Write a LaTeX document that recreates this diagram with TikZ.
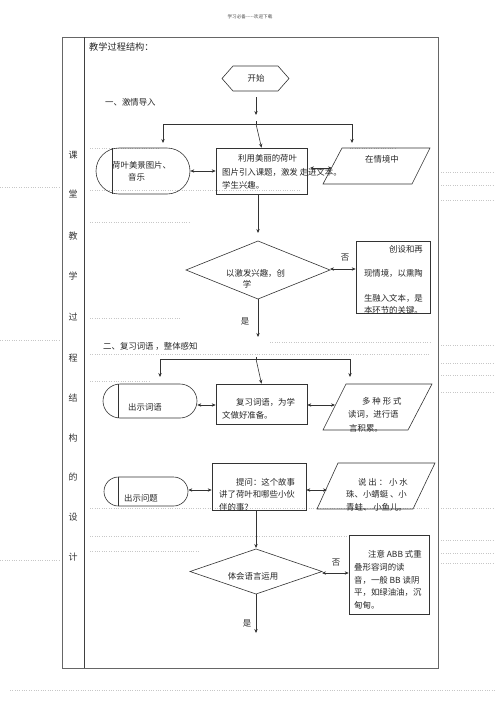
\documentclass[tikz,border=0pt]{standalone}
\usepackage{fontspec}
\newfontfamily\cjk{Noto Sans CJK SC}
\usetikzlibrary{arrows.meta}
\begin{document}
\begin{tikzpicture}[x=1pt,y=-1pt,
  ln/.style={draw=black!80, line width=0.6pt},
  arr/.style={ln,-{Stealth[length=4pt,width=3.4pt]}},
  dbl/.style={ln,{Stealth[length=4pt,width=3.4pt]}-{Stealth[length=4pt,width=3.4pt]}},
  frame/.style={draw=black!60, line width=0.8pt},
  txt/.style={font=\cjk\fontsize{8.4}{10}\selectfont, inner sep=0pt, text=black!85},
  side/.style={font=\cjk\fontsize{9}{10}\selectfont, inner sep=0pt, text=black!80},
  faint/.style={draw=black!22, line width=0.35pt, dotted},
  boxn/.style={ln, inner sep=0pt},
  stad/.style={ln, inner sep=0pt, rounded corners=#1}
]
\useasboundingbox (0,0) rectangle (500,707);
\fill[white] (0,0) rectangle (500,707);

% faint background dotted lines
\draw[faint] (10,690) -- (495,690);
\draw[faint] (441,172) -- (495,172);
\draw[faint] (441,185) -- (495,185);
\draw[faint] (441,200) -- (495,200);
\draw[faint] (441,345) -- (495,345);
\draw[faint] (441,363) -- (495,363);
\draw[faint] (441,375) -- (495,375);
\draw[faint] (441,392) -- (495,392);
\draw[faint] (441,508) -- (495,508);
\draw[faint] (441,540) -- (495,540);
\draw[faint] (441,553) -- (495,553);
\draw[faint] (441,563) -- (495,563);
\draw[faint] (90,148) -- (160,148);
\draw[faint] (350,148) -- (395,148);
\draw[faint] (90,190) -- (300,190);
\draw[faint] (90,222) -- (190,222);
\draw[faint] (90,318) -- (180,318);
\draw[faint] (270,342) -- (430,342);
\draw[faint] (90,354) -- (430,354);
\draw[faint] (90,381) -- (150,381);
\draw[faint] (90,508) -- (430,508);
\draw[faint] (90,536) -- (350,536);
\draw[faint] (90,551) -- (200,551);
\draw[faint] (0,187) -- (60,187);
\draw[faint] (0,340) -- (60,340);
\draw[faint] (0,560) -- (60,560);

% header
\node[font=\cjk\fontsize{4.6}{5}\selectfont, inner sep=0pt, text=black!70] (hdr) at (250,17) {学习必备-----欢迎下载};

% table frame
\draw[frame] (62,37) rectangle (438,668);
\draw[frame, draw=black!75] (84,37) -- (84,668);

% side column
\foreach \c/\y in {课/155,堂/194,教/236,学/276,过/317,程/358,结/398,构/438,的/477,设/517,计/557}
  \node[side] at (73,\y) {\c};

\node[txt, anchor=west, font=\cjk\fontsize{9.2}{10}\selectfont] (title) at (89,47) {教学过程结构：};

% ---------- section 1 ----------
\node[txt, anchor=center] (start) at (256,78.5) {开始};
\draw[ln] (222,78.5) -- (233,66) -- (278,66) -- (289,78.5) -- (278,91) -- (233,91) -- cycle;
\coordinate (st1) at (256,97);
\coordinate (st2) at (256,115);
\draw[arr] (st1) -- (st2);

\node[txt, anchor=west] (sec1) at (105,102) {一、激情导入};

\coordinate (br1) at (256,124);
\coordinate (brL) at (163,124);
\coordinate (brR) at (352,124);
\draw[ln] (brL) -- (brR);
\draw[ln] (256,121) -- (br1);

% left stadium
\node[stad=23pt, minimum width=94pt, minimum height=46pt] (L1) at (143,171) {};
\draw[ln] (112,148.3) -- (112,193.7);
\node[txt, anchor=west] (L1a) at (112,165) {荷叶美景图片、};
\node[txt, anchor=west] (L1b) at (128,177) {音乐};

% center box
\node[boxn, minimum width=91pt, minimum height=46pt] (C1) at (261.5,171) {};
\node[txt, anchor=west] (C1a) at (238,158) {利用美丽的荷叶};
\node[txt, anchor=west] (C1b) at (222,172) {图片引入课题，激发 走进文本。};
\node[txt, anchor=west] (C1c) at (222,185) {学生兴趣。};

% right parallelogram
\draw[ln] (342,148) -- (430,148) -- (412,184) -- (323,184) -- cycle;
\node[txt] (P1) at (382,159) {在情境中};
\coordinate (P1top) at (352,143);
\coordinate (P1w) at (332,168);

\draw[arr] (brL) -- (163,143);
\draw[arr] (brR) -- (P1top);
\draw[arr] (br1) -- (C1.north);
\draw[dbl] (L1.east) -- (C1.west |- L1.east);
\draw[dbl] (310,168) -- (P1w);

% diamond 1
\draw[ln] (186,270) -- (258,241) -- (330,270) -- (258,299) -- cycle;
\coordinate (D1n) at (258,233);
\coordinate (D1e) at (330,269);
\coordinate (D1s) at (258,299);
\node[txt, anchor=west] (D1a) at (226,273) {以激发兴趣，创};
\node[txt] (D1b) at (247,284) {学};
\draw[arr] (C1.south -| D1n) -- (D1n);

% right box 2
\node[boxn, minimum width=74pt, minimum height=72pt] (R1) at (393,277) {};
\node[txt, anchor=east] (R1a) at (423,249) {创设和再};
\node[txt, anchor=east] (R1b) at (423,273) {现情境，以熏陶};
\node[txt, anchor=east] (R1c) at (423,298) {生融入文本，是};
\node[txt, anchor=east] (R1d) at (423,310) {本环节的关键。};
\draw[dbl] (D1e) -- (R1.west |- D1e);
\node[txt] (no1) at (345,258) {否};
\coordinate (D1end) at (258,337);
\draw[arr] (D1s) -- (D1end);
\node[txt] (yes1) at (245,321) {是};

% ---------- section 2 ----------
\node[txt, anchor=west] (sec2) at (103,346) {二、复习词语 ，整体感知};
\coordinate (br2) at (256,359);
\coordinate (br2L) at (160,359);
\coordinate (br2R) at (350,359);
\draw[ln] (br2L) -- (br2R);
\draw[ln] (256,357) -- (br2);

\node[stad=17pt, minimum width=94pt, minimum height=34pt] (L2) at (150,401) {};
\draw[ln] (118,384.3) -- (118,417.7);
\node[txt, anchor=west] (L2a) at (128,407) {出示词语};

\node[boxn, minimum width=91pt, minimum height=40pt] (C2) at (261.5,404) {};
\node[txt, anchor=west] (C2a) at (236,402) {复习词语，为学};
\node[txt, anchor=west] (C2b) at (222,415) {文做好准备。};

\draw[ln] (346,384) -- (432,384) -- (408,430) -- (323,430) -- cycle;
\node[txt, anchor=west] (P2a) at (362,401) {多 种 形 式};
\node[txt, anchor=west] (P2b) at (348,414) {读词，进行语};
\node[txt, anchor=west] (P2c) at (349,428) {言积累。};
\coordinate (P2top) at (350,377);
\coordinate (P2w) at (335,405);

\draw[arr] (br2L) -- (160,377);
\draw[arr] (br2R) -- (P2top);
\draw[arr] (br2) -- (C2.north);
\draw[dbl] (L2.east |- 0,405) -- (C2.west |- 0,405);
\draw[dbl] (C2.east |- 0,405) -- (P2w);

% row 2
\node[stad=14.5pt, minimum width=84pt, minimum height=29pt] (L3) at (146,491.5) {};
\draw[ln] (118,477.3) -- (118,505.7);
\node[txt, anchor=west] (L3a) at (124,498) {出示问题};

\node[boxn, minimum width=94pt, minimum height=47pt] (C3) at (259,486.5) {};
\node[txt, anchor=west] (C3a) at (236,482) {提问：这个故事};
\node[txt, anchor=west] (C3b) at (219,494.5) {讲了荷叶和哪些小伙};
\node[txt, anchor=west] (C3c) at (219,507) {伴的事？};

\draw[ln] (338,463) -- (435,463) -- (413,509) -- (317,509) -- cycle;
\node[txt, anchor=west] (P3a) at (358,482) {说 出 ： 小 水};
\node[txt, anchor=west] (P3b) at (346,494.5) {珠、小蜻蜓 、小};
\node[txt, anchor=west] (P3c) at (346,507) {青蛙、 小鱼儿。};
\coordinate (P3w) at (327,490);

\draw[dbl] (L3.east |- 0,490) -- (C3.west |- 0,490);
\draw[dbl] (C3.east |- 0,490) -- (P3w);

% diamond 2
\draw[ln] (190,571.5) -- (256,549) -- (322,571.5) -- (256,594) -- cycle;
\coordinate (D2n) at (256,548);
\coordinate (D2e) at (322,573);
\coordinate (D2s) at (256,594);
\node[txt] (D2) at (253,576) {体会语言运用};
\draw[arr] (C3.south -| D2n) -- (D2n);

\node[boxn, minimum width=80pt, minimum height=79pt] (R2) at (389,574.5) {};
\node[txt, anchor=west] (R2a) at (368,554) {注意 ABB 式重};
\node[txt, anchor=west] (R2b) at (354,567.5) {叠形容词的读};
\node[txt, anchor=west] (R2c) at (354,580) {音，一般 BB 读阴};
\node[txt, anchor=west] (R2d) at (354,592.5) {平，如绿油油，沉};
\node[txt, anchor=west] (R2e) at (354,605) {甸甸。};
\draw[dbl] (D2e) -- (R2.west |- D2e);
\node[txt] (no2) at (336,563) {否};
\coordinate (D2end) at (256,633);
\draw[arr] (D2s) -- (D2end);
\node[txt] (yes2) at (247,623) {是};
\end{tikzpicture}
\end{document}
